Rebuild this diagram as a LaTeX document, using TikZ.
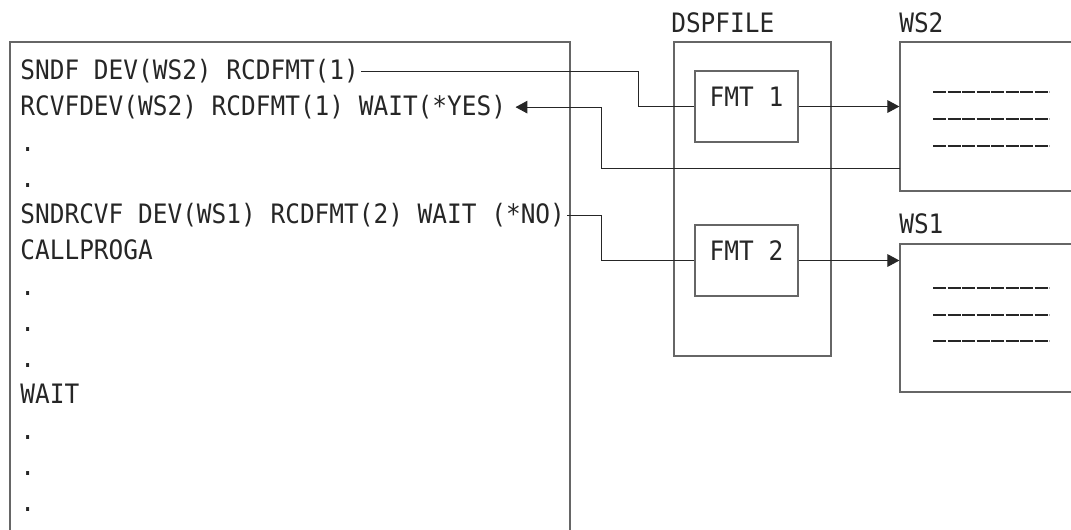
\documentclass[tikz,border=0pt]{standalone}
\usepackage{fontspec}
\newfontfamily\codefont[FakeStretch=0.915]{DejaVu Sans Mono}
\usetikzlibrary{arrows.meta,fit}

\begin{document}
\begin{tikzpicture}[x=0.025cm, y=-0.025cm, every node/.style={font=\codefont\fontsize{19}{22}\selectfont, text=black!85}, >={Triangle[length=8.5pt, width=9pt]}, box/.style={draw=black!60, line width=0.9pt, inner sep=0pt}, conn/.style={black!85, line width=0.7pt}, rule/.style={black!85, line width=1.4pt, dash pattern=on 9.5pt off 0.81pt}, code/.style={anchor=base west, inner sep=1.5pt}, lbl/.style={anchor=base west, inner sep=0pt}]
	\useasboundingbox (0,0) rectangle (1071,529);
	\node[box, fit={(10,42) (570,560)}] (prog) {};
	\foreach \t [count=\i] in {SNDF DEV(WS2) RCDFMT(1), RCVFDEV(WS2) RCDFMT(1) WAIT(*YES), ., ., SNDRCVF DEV(WS1) RCDFMT(2) WAIT (*NO), CALLPROGA, ., ., ., WAIT, ., ., .} {
		\node[code] (l\i) at (18,{79.5+36*(\i-1)}) {\t};
	}
	\node[box, fit={(674,42) (831,356)}] (dsp) {};
	\node[lbl] (dsplbl) at (671,32) {DSPFILE};
	\node[box, fit={(695,71) (798,142)}] (f1) {FMT 1};
	\node[box, fit={(695,225) (798,296)}] (f2) {FMT 2};
	\node[box, fit={(900,42) (1090,191)}] (ws2) {};
	\node[lbl] (ws2lbl) at (899,32) {WS2};
	\node[box, fit={(900,244) (1090,392)}] (ws1) {};
	\node[lbl] (ws1lbl) at (899,233) {WS1};
	\foreach \y in {92,119,146,288,315,341} {\draw[rule] (933,\y) -- (1049,\y);}
	\coordinate (k1) at (638,0);
	\coordinate (k2) at (601,0);
	\coordinate (r2) at (900,168);
	\draw[conn] (l1.east) -| (k1 |- f1.west) -- (f1.west);
	\draw[conn, ->] (f1.east) -- (f1.east -| ws2.west);
	\draw[conn, ->, shorten >=5pt] (r2) -| (k2 |- l2.east) -- (l2.east);
	\draw[conn] (l5.east) -| (k2 |- f2.west) -- (f2.west);
	\draw[conn, ->] (f2.east) -- (f2.east -| ws1.west);
\end{tikzpicture}
\end{document}
